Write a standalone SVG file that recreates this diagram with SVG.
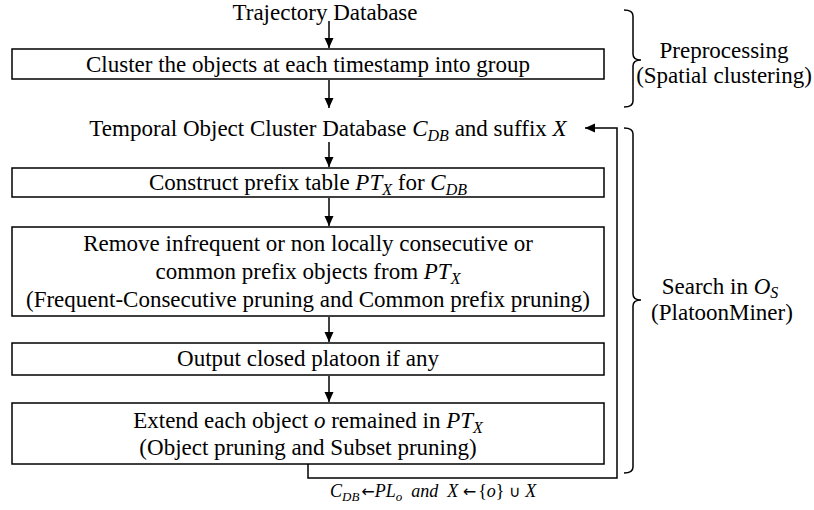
<svg xmlns="http://www.w3.org/2000/svg" width="814" height="510" viewBox="0 0 814 510" font-family="Liberation Serif, Times New Roman, serif">
<defs>
<marker id="ah" markerWidth="11" markerHeight="10" refX="10" refY="4.5" orient="auto" markerUnits="userSpaceOnUse">
<path d="M0,0 L10,4.5 L0,9 Z" fill="#000"/>
</marker>
<style>
text{font-family:'Liberation Serif',serif;font-size:23px;fill:#000}
.c{text-anchor:middle}
.i{font-style:italic}
.s{font-size:16px}
.box{fill:#fff;stroke:#000;stroke-width:1.5}
.ln{fill:none;stroke:#000;stroke-width:1.5}
.lab{font-size:18px;font-style:italic}
.sym{font-family:'DejaVu Sans',sans-serif;font-style:normal;font-size:16px}
</style>
</defs>
<rect width="814" height="510" fill="#fff"/>
<g id="connectors">
<path class="ln" d="M329,21 V48" marker-end="url(#ah)"/>
<path class="ln" d="M329,80 V108" marker-end="url(#ah)"/>
<path class="ln" d="M329,142 V167" marker-end="url(#ah)"/>
<path class="ln" d="M329,198 V226" marker-end="url(#ah)"/>
<path class="ln" d="M329,317 V342" marker-end="url(#ah)"/>
<path class="ln" d="M329,376 V402" marker-end="url(#ah)"/>
<path class="ln" d="M308,464 V478 H617 V128 H585" marker-end="url(#ah)"/>
</g>
<g id="trajectory-db">
<text class="c" x="325" y="20">Trajectory Database</text>
</g>
<g id="cluster">
<rect class="box" x="12" y="49" width="592" height="30"/>
<text class="c" x="308" y="72">Cluster the objects at each timestamp into group</text>
</g>
<g id="temporal-db">
<text class="c" x="328" y="136">Temporal Object Cluster Database <tspan class="i">C</tspan><tspan class="i s" dy="5">DB</tspan><tspan dy="-5"> and suffix </tspan><tspan class="i">X</tspan></text>
</g>
<g id="construct">
<rect class="box" x="12" y="168" width="592" height="29"/>
<text class="c" x="308" y="190">Construct prefix table <tspan class="i">PT</tspan><tspan class="i s" dy="5">X</tspan><tspan dy="-5"> for </tspan><tspan class="i">C</tspan><tspan class="i s" dy="5">DB</tspan></text>
</g>
<g id="remove">
<rect class="box" x="12" y="227" width="592" height="89"/>
<text class="c" x="308" y="251">Remove infrequent or non locally consecutive or</text>
<text class="c" x="308" y="279">common prefix objects from <tspan class="i">PT</tspan><tspan class="i s" dy="5">X</tspan></text>
<text class="c" x="308" y="307">(Frequent-Consecutive pruning and Common prefix pruning)</text>
</g>
<g id="output">
<rect class="box" x="12" y="343" width="592" height="32"/>
<text class="c" x="308" y="366">Output closed platoon if any</text>
</g>
<g id="extend">
<rect class="box" x="12" y="403" width="592" height="61"/>
<text class="c" x="308" y="428">Extend each object <tspan class="i">o</tspan> remained in <tspan class="i">PT</tspan><tspan class="i s" dy="5">X</tspan></text>
<text class="c" x="308" y="455">(Object pruning and Subset pruning)</text>
</g>
<g id="loop-label">
<text class="lab" x="330" y="497">C<tspan font-size="13" dy="4">DB</tspan><tspan class="sym" dy="-4" dx="2">←</tspan>PL<tspan font-size="13" dy="4">o</tspan><tspan dy="-4" xml:space="preserve">  and  X </tspan><tspan class="sym">←</tspan><tspan font-style="normal" dx="2">{</tspan>o<tspan font-style="normal">} </tspan><tspan class="sym" font-size="20">∪</tspan><tspan> X</tspan></text>
</g>
<g id="preprocessing">
<path class="ln" d="M624,10 Q633,10 633,16 V54 Q633,60 641,60 Q633,60 633,66 V101 Q633,107 624,107"/>
<text class="c" x="724" y="58">Preprocessing</text>
<text class="c" x="724" y="83">(Spatial clustering)</text>
</g>
<g id="search">
<path class="ln" d="M624,128 Q633,128 633,134 V294 Q633,300 641,300 Q633,300 633,306 V467 Q633,473 624,473"/>
<text class="c" x="720" y="294">Search in <tspan class="i">O</tspan><tspan class="i s" dy="4">S</tspan></text>
<text class="c" x="722" y="320">(PlatoonMiner)</text>
</g>
</svg>
